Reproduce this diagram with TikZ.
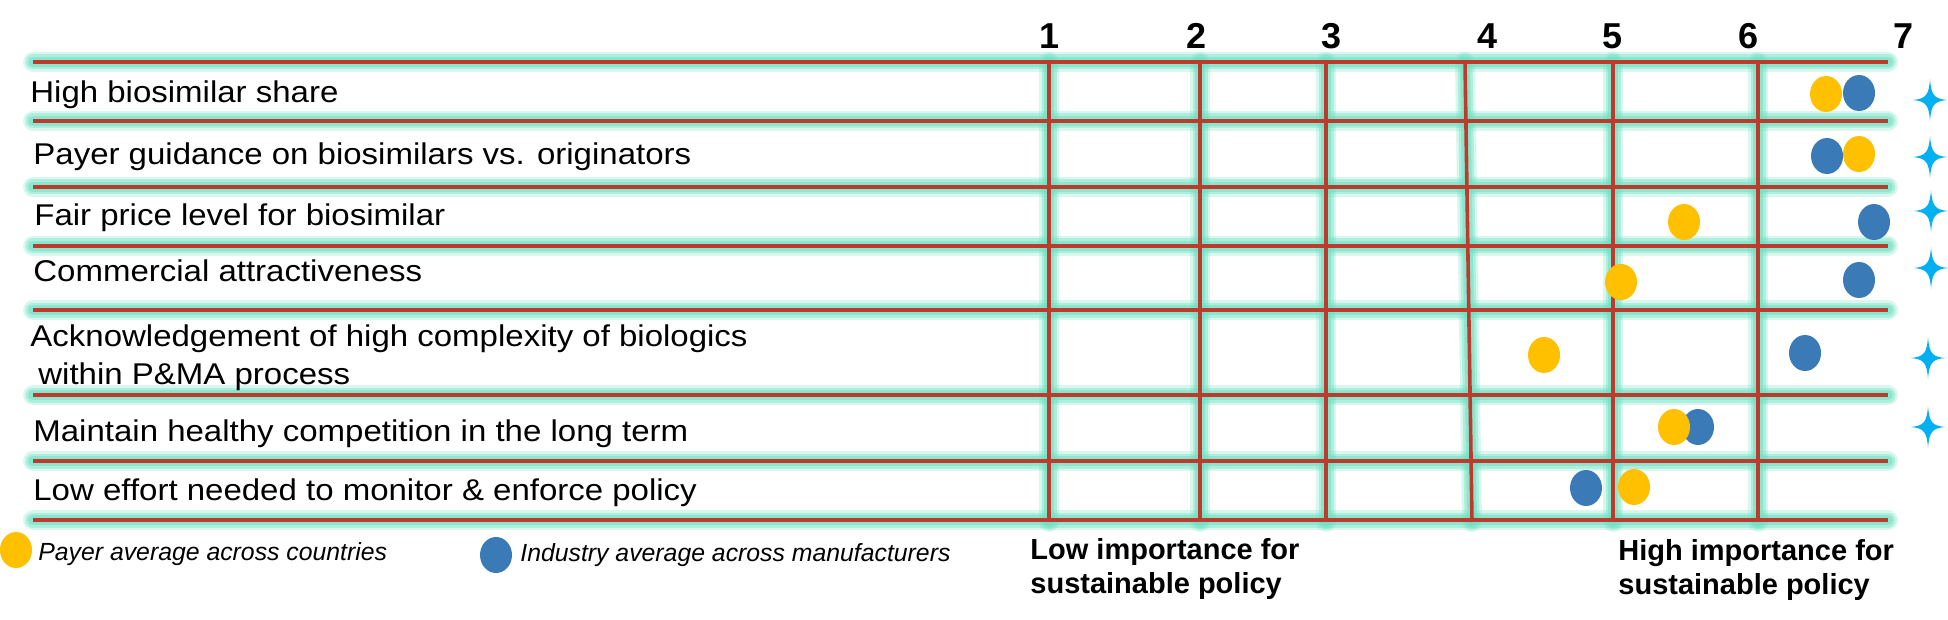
\documentclass[tikz,border=0pt]{standalone}
\usepackage{fontspec}
\setmainfont{Liberation Sans}
\newfontfamily\rowfont[FakeStretch=1.1,WordSpace=1.0]{Liberation Sans}
\newfontfamily\legfont[FakeStretch=1.0]{Liberation Sans}
\usetikzlibrary{shapes.geometric}
\definecolor{gridred}{RGB}{190,58,45}
\definecolor{glowc}{RGB}{110,225,195}
\definecolor{payer}{RGB}{255,192,0}
\definecolor{industry}{RGB}{58,122,182}
\definecolor{sparkc}{RGB}{0,176,240}
\tikzset{
  glowA/.style={draw=glowc, line width=10pt, opacity=0.25, line cap=round},
  glowB/.style={draw=glowc, line width=7.5pt, opacity=0.4, line cap=round},
  glowC/.style={draw=glowc, line width=5pt, opacity=0.55, line cap=round},
  gridline/.style={draw=gridred, line width=1.8pt},
  rowlab/.style={anchor=base west, inner sep=0pt, font=\rowfont\fontsize{15pt}{18pt}\selectfont},
  numlab/.style={anchor=base, inner sep=0pt, font=\bfseries\fontsize{18pt}{21pt}\selectfont},
  endlab/.style={anchor=base west, inner sep=0pt, font=\bfseries\fontsize{14.5pt}{17pt}\selectfont},
  leglab/.style={anchor=base west, inner sep=0pt, font=\legfont\itshape\fontsize{12.4pt}{14pt}\selectfont},
  dot/.style={ellipse, draw=none, inner sep=0pt, minimum width=16pt, minimum height=18pt},
  payerdot/.style={dot, fill=payer},
  industrydot/.style={dot, fill=industry},
  sparkle/.pic={\fill[sparkc] (0,-21) .. controls (1.2,-5) and (4,-1.3) .. (17,0)
      .. controls (4,1.3) and (1.2,5) .. (0,21)
      .. controls (-1.2,5) and (-4,1.3) .. (-17,0)
      .. controls (-4,-1.3) and (-1.2,-5) .. cycle;}
}
\begin{document}
\begin{tikzpicture}[x=0.5pt,y=-0.5pt]
\fill[white] (0,0) rectangle (1948,620);
\useasboundingbox (0,0) rectangle (1948,620);

% grid with glow
\foreach \s in {glowA,glowB,glowC,gridline}{
  \foreach \yy in {62,121,187,246,310,395,461,520}
    \draw[\s] (33,\yy) -- (1888,\yy);
  \foreach \xx in {1049,1200,1326,1613,1758}
    \draw[\s] (\xx,62) -- (\xx,522);
  \draw[\s] (1465,62) -- (1472,522);
}

% scale numbers
\node[numlab] (n1) at (1049,49) {1};
\node[numlab] (n2) at (1196,49) {2};
\node[numlab] (n3) at (1331,49) {3};
\node[numlab] (n4) at (1487,49) {4};
\node[numlab] (n5) at (1612,49) {5};
\node[numlab] (n6) at (1748,49) {6};
\node[numlab] (n7) at (1903,49) {7};

% row labels
\node[rowlab] (r1) at (30,103) {High biosimilar share};
\node[rowlab] (r2) at (33,165) {Payer guidance on biosimilars vs. originators};
\node[rowlab] (r3) at (34,226) {Fair price level for biosimilar};
\node[rowlab] (r4) at (33,282) {Commercial attractiveness};
\node[rowlab] (r5) at (30,346) {Acknowledgement of high complexity of biologics};
\node[rowlab] (r5b) at (38,384) {within P\&MA process};
\node[rowlab] (r6) at (33,441) {Maintain healthy competition in the long term};
\node[rowlab] (r7) at (33,500) {Low effort needed to monitor \& enforce policy};

% data points
\node[payerdot] (p1) at (1826,94) {};
\node[industrydot] (i1) at (1859,93) {};
\node[industrydot] (i2) at (1827,156) {};
\node[payerdot] (p2) at (1859,154) {};
\node[payerdot] (p3) at (1684,222) {};
\node[industrydot] (i3) at (1874,222) {};
\node[payerdot] (p4) at (1621,282) {};
\node[industrydot] (i4) at (1859,280) {};
\node[payerdot] (p5) at (1544,355) {};
\node[industrydot] (i5) at (1805,353) {};
\node[industrydot] (i6) at (1698,427) {};
\node[payerdot] (p6) at (1674,427) {};
\node[industrydot] (i7) at (1586,488) {};
\node[payerdot] (p7) at (1634,487) {};

% sparkles
\pic at (1930,100) {sparkle};
\pic at (1930,157) {sparkle};
\pic at (1931,211) {sparkle};
\pic at (1931,268) {sparkle};
\pic at (1928,358) {sparkle};
\pic at (1928,427) {sparkle};

% legend
\node[payerdot] (lp) at (16,550) {};
\node[leglab] (lpt) at (38,560) {Payer average across countries};
\node[industrydot] (li) at (496,555) {};
\node[leglab] (lit) at (520,561) {Industry average across manufacturers};

% axis end labels
\node[endlab] (low1) at (1030,559) {Low importance for};
\node[endlab] (low2) at (1030,593) {sustainable policy};
\node[endlab] (high1) at (1618,560) {High importance for};
\node[endlab] (high2) at (1618,594) {sustainable policy};
\end{tikzpicture}
\end{document}
